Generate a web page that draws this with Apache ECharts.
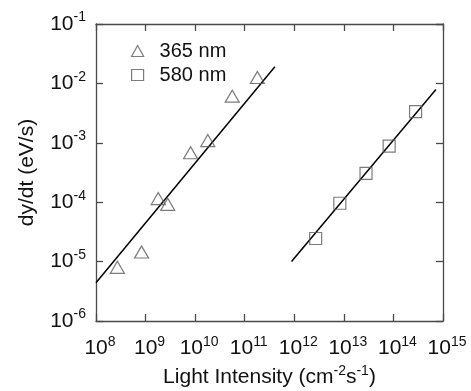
<!DOCTYPE html>
<html>
<head>
<meta charset="utf-8">
<script src="https://cdn.jsdelivr.net/npm/echarts@6/dist/echarts.min.js"></script>
<style>
  html, body { margin: 0; padding: 0; background: #fff; }
  #chart { width: 471px; height: 391px; }
</style>
</head>
<body>
<div id="chart"></div>
<script>
// Photo-induced rate vs. light intensity, two excitation wavelengths (log-log)
const seriesNames = ['365 nm', '580 nm'];

// 365 nm measurements: intensity (cm^-2 s^-1), rate (eV/s)
const intensity365 = [2.7e8, 8.3e8, 1.8e9, 2.8e9, 8.1e9, 1.8e10, 5.6e10, 1.8e11];
const rate365 = [8.0e-6, 1.45e-5, 1.15e-4, 9.2e-5, 6.8e-4, 1.09e-3, 6.1e-3, 1.26e-2];

// 580 nm measurements
const intensity580 = [2.7e12, 8.3e12, 2.8e13, 8.2e13, 2.8e14];
const rate580 = [2.45e-5, 9.6e-5, 3.05e-4, 8.8e-4, 3.35e-3];

// Power-law fit lines (end points)
const fitX365 = [1e8, 4.06e11];
const fitY365 = [4.4e-6, 1.91e-2];
const fitX580 = [8.8e11, 7.2e14];
const fitY580 = [1.0e-5, 7.9e-3];

// Axis decades
const xMin = 1e8, xMax = 1e15;
const yMin = 1e-6, yMax = 1e-1;

const pairs = (xs, ys) => xs.map((x, i) => [x, ys[i]]);

const FONT = 'Liberation Sans, Arial, Helvetica, sans-serif';
const AXIS_COLOR = '#4a4a4a';
const MARK_COLOR = '#5a5a5a';
const TEXT_COLOR = '#111';

function expOf(v) { return Math.round(Math.log10(v)); }

const supStyle = { fontSize: 14, fontFamily: FONT, color: TEXT_COLOR, verticalAlign: 'top', lineHeight: 13 };

// x labels: left padding keeps the mantissa "10" close to the tick centre
const xRich = {
  b1: { fontSize: 21, fontFamily: FONT, color: TEXT_COLOR, lineHeight: 27, padding: [0, 0, 0, 8] },
  b2: { fontSize: 21, fontFamily: FONT, color: TEXT_COLOR, lineHeight: 27, padding: [0, 0, 0, 8] },
  s: supStyle
};

const yRich = {
  b: { fontSize: 21, fontFamily: FONT, color: TEXT_COLOR, lineHeight: 27 },
  s: supStyle
};

const frameAxis = {
  type: 'log',
  logBase: 10,
  interval: 1,
  axisLine: { show: true, lineStyle: { color: AXIS_COLOR, width: 1.3 } },
  axisTick: { show: true, inside: true, length: 7, lineStyle: { color: AXIS_COLOR, width: 1.3 } },
  minorTick: { show: false },
  splitLine: { show: false }
};

const chart = echarts.init(document.getElementById('chart'), null, { renderer: 'canvas' });

chart.setOption({
  backgroundColor: '#fff',
  animation: false,
  grid: { left: 96, right: 28, top: 24, bottom: 70, containLabel: false, outerBoundsMode: 'none' },
  legend: {
    data: seriesNames,
    orient: 'vertical',
    left: 131,
    top: 41,
    padding: 0,
    itemWidth: 12,
    itemHeight: 11,
    itemGap: 4,
    itemStyle: { borderWidth: 1.2 },
    textStyle: { fontSize: 20, fontFamily: FONT, color: TEXT_COLOR, padding: [0, 0, 0, 11] }
  },
  xAxis: [
    Object.assign({}, frameAxis, {
      position: 'bottom',
      min: xMin, max: xMax,
      name: 'Light Intensity (cm{s|-2}s{s|-1})',
      nameLocation: 'middle',
      nameGap: 41,
      nameTextStyle: {
        fontSize: 21, fontFamily: FONT, color: TEXT_COLOR,
        lineHeight: 27,
        rich: {
          s: { fontSize: 14, fontFamily: FONT, color: TEXT_COLOR, verticalAlign: 'top', lineHeight: 13 }
        }
      },
      axisLabel: {
        margin: 14,
        showMinLabel: true,
        showMaxLabel: true,
        hideOverlap: false,
        formatter: v => {
          const e = expOf(v);
          return '{' + (String(e).length > 1 ? 'b2' : 'b1') + '|10}{s|' + e + '}';
        },
        rich: xRich
      }
    }),
    Object.assign({}, frameAxis, {
      position: 'top',
      min: xMin, max: xMax,
      axisLabel: { show: false }
    })
  ],
  yAxis: [
    Object.assign({}, frameAxis, {
      position: 'left',
      min: yMin, max: yMax,
      name: 'dy/dt (eV/s)',
      nameLocation: 'middle',
      nameGap: 58,
      nameRotate: 90,
      nameTextStyle: { fontSize: 21, fontFamily: FONT, color: TEXT_COLOR },
      axisLabel: {
        margin: 10,
        showMinLabel: true,
        showMaxLabel: true,
        hideOverlap: false,
        formatter: v => '{b|10}{s|' + expOf(v) + '}',
        rich: yRich
      }
    }),
    Object.assign({}, frameAxis, {
      position: 'right',
      min: yMin, max: yMax,
      axisLabel: { show: false }
    })
  ],
  series: [
    {
      name: seriesNames[0],
      type: 'scatter',
      data: pairs(intensity365, rate365),
      symbol: 'triangle',
      symbolSize: [14, 12],
      itemStyle: { color: 'rgba(255,255,255,0)', borderColor: MARK_COLOR, borderWidth: 1.2 },
      z: 3
    },
    {
      name: seriesNames[1],
      type: 'scatter',
      data: pairs(intensity580, rate580),
      symbol: 'rect',
      symbolSize: 12,
      itemStyle: { color: 'rgba(255,255,255,0)', borderColor: MARK_COLOR, borderWidth: 1.2 },
      z: 3
    },
    {
      name: 'fit 365',
      type: 'line',
      data: pairs(fitX365, fitY365),
      symbol: 'none',
      lineStyle: { color: '#000', width: 1.5 },
      z: 2
    },
    {
      name: 'fit 580',
      type: 'line',
      data: pairs(fitX580, fitY580),
      symbol: 'none',
      lineStyle: { color: '#000', width: 1.5 },
      z: 2
    }
  ]
});
</script>
</body>
</html>
